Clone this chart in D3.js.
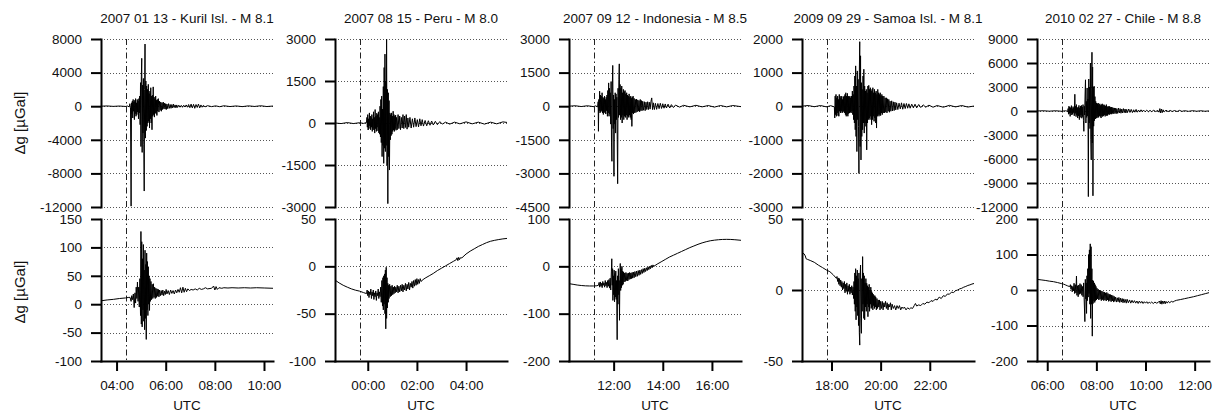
<!DOCTYPE html>
<html><head><meta charset="utf-8">
<script src="https://cdn.jsdelivr.net/npm/d3@7"></script>
<style>
body{margin:0;background:#fff}
svg{display:block}
text{font-family:"Liberation Sans",Arial,Helvetica,sans-serif;fill:#111}
</style>
</head><body>
<svg id="chart" width="1214" height="412"></svg>
<script>
// ---------- data ----------
const titles = [
  "2007 01 13 - Kuril Isl. - M 8.1",
  "2007 08 15 - Peru - M 8.0",
  "2007 09 12 - Indonesia - M 8.5",
  "2009 09 29 - Samoa Isl. - M 8.1",
  "2010 02 27 - Chile - M 8.8"
];
const eventTimes = [
  "2007-01-13T04:22:00Z",
  "2007-08-15T23:40:00Z",
  "2007-09-12T11:11:00Z",
  "2009-09-29T17:48:00Z",
  "2010-02-27T06:35:00Z"
];
const topTicks = [
  [8000, 4000, 0, -4000, -8000, -12000],
  [3000, 1500, 0, -1500, -3000],
  [3000, 1500, 0, -1500, -3000, -4500],
  [2000, 1000, 0, -1000, -2000, -3000],
  [9000, 6000, 3000, 0, -3000, -6000, -9000, -12000]
];
const bottomTicks = [
  [150, 100, 50, 0, -50, -100],
  [50, 0, -50, -100],
  [100, 0, -100, -200],
  [50, 0, -50],
  [200, 100, 0, -100, -200]
];
const yLabel = "\u0394g [\u00B5Gal]";
const xLabel = "UTC";

// [minutes after event, µGal]
const kurilTop = [[-60,0],[-45,30],[-30,-20],[-15,20],[0,-30],[5,20],[9,-80],[10.5,300],[12,-200],[13.5,-11900],[14.5,400],[15.5,-900],[16.5,600],[17.5,-1400],[18.5,800],[19.5,-600],[20.5,500],[21.5,-1600],[22.5,700],[23.5,-900],[24.5,900],[25.5,-1200],[26.5,400],[27.5,-1000],[28.5,800],[29.5,-700],[30.5,600],[31.5,-1500],[32.5,900],[33.5,-800],[34.5,1200],[35.5,-2200],[36.5,2800],[37.5,-4800],[38.5,3500],[39.5,5700],[40.5,-5500],[41.5,2500],[42.5,-3200],[43.5,3300],[44.5,-4600],[45.5,-10100],[46.5,2000],[47.5,7400],[48.5,-3800],[49.5,3000],[50.5,-2900],[51.5,2400],[52.5,-2400],[53.5,2000],[54.5,-2000],[55.5,2600],[56.5,-1800],[57.5,1500],[58.5,-2600],[59.5,1800],[60.5,-1500],[61.5,2200],[62.5,-2000],[63.5,1200],[64.5,-2800],[65.5,1300],[66.5,-1200],[67.5,2300],[68.5,-1000],[69.5,1100],[70.5,-1300],[71.5,900],[72.5,-800],[73.5,1200],[74.5,-900],[75.5,700],[76.5,-1100],[77.5,800],[78.5,-600],[80,900],[81.5,-700],[83,600],[84.5,-500],[86,500],[87.5,-600],[89,400],[90.5,-400],[92,500],[93.5,-300],[95,350],[96.5,-350],[98,300],[99.5,-400],[101,250],[103,-300],[105,300],[107,-250],[109,200],[111,-250],[113,200],[115,-200],[117,250],[119,-150],[121,150],[123,-200],[125,150],[127,-150],[130,120],[133,-120],[136,100],[139,-130],[142,110],[145,-100],[148,150],[151,-120],[154,200],[157,-180],[160,250],[163,-200],[166,220],[169,-250],[172,200],[175,-150],[178,250],[181,-200],[184,150],[187,-120],[190,100],[194,-80],[200,60],[210,-50],[220,40],[230,-60],[240,50],[255,-40],[270,30],[285,-50],[300,40],[315,-30],[330,50],[345,-40],[360,20]];
const kurilBottom = [[-60,6],[-45,7.5],[-30,8.5],[-15,10],[0,11],[8,12],[11,12],[13.5,5],[15,15],[17,8],[19,18],[21,-6],[23,20],[24.5,2],[26,30],[27.5,10],[29,39],[30.5,5],[32,30],[33.5,-5],[35,45],[36.5,-20],[37.5,128],[38.5,-35],[39.5,110],[40.5,-40],[41.5,80],[42.5,-10],[43.5,105],[44.5,-30],[45.5,60],[46.5,-45],[47.5,95],[48.5,-25],[49.5,70],[50.5,-62],[51.5,90],[52.5,-10],[53.5,75],[54.5,-20],[55.5,66],[56.5,0],[57.5,50],[58.5,-11],[59.5,45],[60.5,5],[62,40],[63.5,8],[65,35],[66.5,10],[68,36],[69.5,12],[71,30],[72.5,10],[74,28],[75.5,12],[77,27],[78.5,14],[80,26],[81.5,13],[83,25],[85,15],[87,24],[89,16],[91,25],[93,15],[95,23],[97,17],[99,26],[101,18],[104,24],[107,17],[110,25],[113,19],[116,24],[119,18],[122,25],[125,20],[128,26],[131,21],[134,29],[137,20],[140,30],[143,21],[146,28],[149,22],[152,27],[156,24],[160,26],[165,25],[170,27],[175,25],[180,28],[185,26],[190,27],[195,29],[200,27],[210,28],[215,32],[218,25],[221,31],[224,26],[228,29],[235,28],[240,29],[250,28.5],[260,29],[275,28.5],[290,29],[305,28.5],[320,29],[340,28.5],[360,28]];

const peruTop = [[-60,0],[-45,-20],[-30,15],[-15,-20],[0,10],[10,-15],[17,20],[18,200],[19,-150],[20,300],[21,-250],[22,150],[23,-200],[24,360],[25,-100],[26,250],[27,-240],[28,200],[29,-150],[30,300],[31,-300],[32,150],[33,-200],[34,400],[35,-250],[36,200],[37,-360],[38,480],[39,-200],[40,250],[41,-300],[42,350],[43,-150],[44,300],[45,-280],[46,400],[47,-350],[48,200],[49,-400],[50,600],[51,-500],[52,840],[53,-700],[54,960],[55,-1200],[56,500],[57,-800],[58,1300],[59,-1440],[60,1980],[61,-900],[62,2460],[63,-1020],[64,1500],[65,-800],[66,3000],[67,-1500],[68,1200],[69,-2880],[70,1080],[71,-1200],[72,800],[73,-1680],[74,360],[75,-600],[76,300],[77,-450],[78,360],[79,-400],[80,250],[81,-300],[82,420],[83,-250],[84,300],[85,-300],[86,240],[87,-200],[88,280],[89,-260],[90,200],[92,-240],[94,300],[96,-200],[98,250],[100,-240],[102,200],[104,-180],[106,300],[108,-200],[110,250],[112,-160],[114,300],[116,-220],[118,180],[120,-150],[123,200],[126,-180],[129,150],[132,-150],[135,180],[138,-130],[141,120],[144,-140],[147,150],[150,-100],[153,120],[156,-110],[160,90],[164,-100],[168,80],[172,-80],[176,70],[180,-70],[185,60],[190,-60],[196,50],[202,-40],[210,30],[220,-40],[232,30],[245,-30],[260,40],[275,-30],[290,30],[305,-40],[320,30],[335,-30],[350,40],[360,20]];
const peruBottom = [[-60,-14.5],[-50,-17.5],[-40,-20],[-30,-22],[-20,-23.8],[-10,-25.2],[0,-26.2],[10,-27.8],[17,-28.8],[18.5,-25],[20,-31],[21.5,-26],[23,-33],[24.5,-27],[26,-30],[27.5,-24],[29,-34],[30.5,-27],[32,-31],[33.5,-25],[35,-35],[36.5,-28],[38,-32],[39.5,-26],[41,-36],[42.5,-28],[44,-31],[45.5,-24],[47,-34],[48.5,-27],[50,-32],[51.5,-22],[53,-38],[54.5,-15],[56,-42],[57,-12],[58,-46],[59,-10],[60,-40],[61,-8],[62,-50],[63,-4],[64,-66],[65,-1],[66,-55],[67,-12],[68,-44],[69,-18],[70,-38],[71,-20],[72,-34],[73.5,-19],[75,-32],[76.5,-21],[78,-31],[79.5,-20],[81,-30],[82.5,-22],[84,-29],[85.5,-21],[87,-28],[88.5,-22],[90,-27],[92,-20],[94,-28],[96,-21],[98,-27],[100,-20],[102,-26],[104,-19],[106,-27],[108,-20],[110,-25],[112,-18],[114,-26],[116,-19],[118,-24],[120,-17],[122,-25],[124,-18],[126,-22],[128,-16],[130,-23],[132,-15],[134,-21],[136,-14],[138,-20],[140,-13],[142,-19],[144,-14],[146,-18],[148,-13],[150,-16],[155,-14],[160,-12.5],[170,-10],[180,-7.5],[190,-4.5],[200,-2],[210,0.5],[220,3],[230,5.5],[236,7],[238,9],[240,6],[242,9.5],[244,7],[246,9],[250,9],[260,13],[270,16],[280,18.5],[290,21],[300,23],[310,25],[320,26.5],[330,27.5],[340,28.3],[350,29],[360,29.5]];

const indonesiaTop = [[-60,0],[-45,20],[-30,-15],[-15,20],[0,-20],[5,15],[10,-30],[11.2,200],[11.9,-1120],[12.8,300],[13.8,-200],[14.8,670],[15.8,-300],[16.8,500],[17.8,-250],[18.8,450],[19.8,-200],[20.8,600],[21.8,-300],[22.8,400],[23.8,-370],[24.8,350],[25.8,-250],[26.8,450],[27.8,-300],[28.8,300],[29.8,-350],[30.8,400],[31.8,-200],[32.8,500],[33.8,-450],[34.8,700],[35.8,-300],[36.8,1040],[37.8,-450],[38.8,800],[39.8,-350],[40.8,600],[41.8,-800],[42.8,1100],[43.8,-1640],[44.8,-2460],[45.8,900],[46.8,1820],[47.8,-1000],[48.8,500],[49.8,-3130],[50.8,300],[51.8,-800],[52.8,600],[53.8,-1200],[54.8,550],[55.8,-600],[56.8,400],[57.8,-1500],[58.8,-3460],[59.8,800],[60.8,-500],[61.8,1200],[62.8,1890],[63.8,-400],[64.8,970],[65.8,-600],[66.8,800],[67.8,-500],[68.8,900],[69.8,-750],[70.8,600],[71.8,-400],[72.8,750],[73.8,-600],[74.8,650],[75.8,-450],[76.8,700],[77.8,-500],[78.8,550],[79.8,-400],[80.8,600],[81.8,-600],[82.8,500],[83.8,-450],[84.8,450],[85.8,-500],[86.8,550],[87.8,-400],[88.8,400],[89.8,-500],[90.8,450],[91.8,-600],[92.8,350],[93.5,-900],[94.5,400],[95.5,-300],[96.5,450],[97.5,-350],[99,350],[100.5,-300],[102,300],[103.5,-280],[105,320],[106.5,-250],[108,280],[109.5,-220],[111,250],[112.5,-250],[114,300],[115.5,-200],[117,250],[118.5,-200],[120,220],[122,-180],[124,200],[126,-200],[128,180],[130,-150],[132,200],[134,-150],[136,180],[138,-130],[140,200],[142,370],[144,-150],[146,150],[148.5,-150],[151,130],[154,-140],[157,120],[160,-110],[163,130],[166,-100],[169,110],[172,-90],[175,100],[178,-80],[182,90],[186,-80],[190,70],[195,-60],[200,50],[210,-40],[220,40],[235,-30],[250,40],[265,-30],[280,30],[295,-40],[310,30],[325,-30],[340,30],[360,-20]];
const indonesiaBottom = [[-60,-36.6],[-50,-38],[-40,-39.5],[-30,-40.5],[-20,-41.2],[-10,-41.5],[0,-41.5],[8,-41],[12,-40],[13.5,-34],[15,-44],[16.5,-33],[18,-42],[19.5,-36],[21,-45],[22.5,-32],[24,-40],[25.5,-35],[27,-44],[28.5,-30],[30,-41],[31.5,-34],[33,-45],[34.5,-30],[36,-42],[37.5,-28],[39,-46],[40.5,-25],[42,-50],[43.5,-10],[44.5,16],[45.5,-40],[46.5,-5],[47.2,-72],[48.2,-20],[49.2,-60],[50.2,-8],[51.2,-75],[52.2,-15],[53.2,-65],[54.2,-10],[55.2,-70],[56.2,-30],[57.6,-155],[58.6,-20],[59.6,-80],[60.6,-5],[61.6,-60],[62.6,-30],[63.3,-114],[64.3,-20],[65.2,6],[66.2,-51],[67.2,-5],[68.2,-45],[69.2,0],[70.2,-40],[71.2,-10],[72.2,-38],[73.2,-12],[74.5,-33],[76,-14],[77.5,-32],[79,-13],[80.5,-30],[82,-15],[83.5,-31],[85,-14],[86.5,-28],[88,-13],[89.5,-27],[91,-14],[92.5,-26],[94,-13],[95.5,-25],[97,-12],[99,-24],[101,-11],[103,-22],[105,-10],[107,-21],[109,-9],[111,-19],[113,-8],[115,-17],[117,-7],[119,-15],[121,-5],[123,-13],[125,-4],[127,-11],[129,-3],[131,-9],[133,-1],[135,-7],[137,0],[139,-5],[141,2],[143,-3],[145,3],[147,0],[155,4.5],[165,9.5],[175,14.5],[185,19.5],[195,23.5],[205,27.5],[215,31.5],[225,35.5],[235,39.5],[245,43],[255,46.5],[265,49.5],[275,52],[285,54],[295,55.3],[305,56.2],[315,56.8],[325,57],[335,56.8],[345,56.2],[360,55]];

const samoaTop = [[-60,0],[-45,20],[-30,-15],[-15,20],[0,-20],[10,15],[19,-20],[20,-350],[21,300],[22,-250],[23,350],[24,-300],[25,250],[26,-200],[27,300],[28,-280],[29,200],[30,-300],[31,350],[32,-150],[33,300],[34,-200],[35,250],[36,-150],[37,300],[38,-200],[39,200],[40,-180],[41,280],[42,-150],[43,300],[44,-200],[45,350],[46,-250],[47,400],[48,-300],[49,300],[50,-250],[51,380],[52,-300],[53,300],[54,-220],[55,280],[56,-200],[57,300],[58,-180],[59,250],[60,-200],[61,300],[62,-150],[63,450],[64,-250],[65,350],[66,-400],[67,600],[68,-500],[69,900],[70,-700],[71,1200],[72,-900],[73,600],[74,-1350],[75,1050],[76,-400],[77,800],[78,-600],[79,-2000],[80,1000],[81,1920],[82,-1200],[83,1500],[84,-1600],[85,700],[86,-900],[87,500],[88,-700],[89,900],[90,-500],[91,1100],[92,-800],[93,600],[94,-500],[95,450],[96,-600],[97,500],[98,-1300],[99,400],[100,-500],[101,600],[102,-400],[103,620],[104,-350],[105,500],[106,-400],[107,550],[108,-300],[109,450],[110,-550],[111,500],[112,-400],[113,550],[114,-300],[115,400],[116,-450],[117,500],[118,-350],[119,400],[120,-500],[121,450],[122,-650],[123,350],[124,-300],[125,500],[126,-250],[127,400],[128,-300],[129,350],[130,-250],[131,400],[132,-280],[133,300],[134,-200],[135,350],[136,-250],[137,300],[138.5,-200],[140,300],[141.5,-200],[143,250],[144.5,-180],[146,250],[147.5,-200],[149,220],[150.5,-150],[152,200],[153.5,-180],[155,150],[157,-150],[159,160],[161,-140],[163,130],[165,-130],[167,120],[169,-110],[171,100],[174,-100],[177,90],[180,-80],[183,100],[186,-90],[189,80],[192,-70],[195,80],[198,-60],[201,70],[204,-60],[208,60],[212,-50],[216,60],[220,-50],[225,50],[230,-40],[236,40],[242,-30],[250,30],[260,-30],[270,20],[285,-30],[300,25],[315,-20],[330,20],[345,-25],[363,10]];
const samoaBottom = [[-60,26],[-55,25.5],[-52,24],[-50,22],[-47,21.6],[-40,20.8],[-30,19.5],[-20,17.5],[-10,15.8],[0,14],[8,12.9],[16,10.8],[24,8.2],[25.5,9.5],[27,6],[28.5,8.5],[30,4],[31.5,8],[33,3],[34.5,7],[36,2],[37.5,6],[39,0],[40.5,5],[42,1],[43.5,6],[45,-2],[46.5,4],[48,-1],[49.5,5],[51,-3],[52.5,3],[54,-1],[55.5,4],[57,-3],[58.5,2],[60,-2],[61.5,3],[63,-3.5],[64.5,2],[66,-6],[67,6],[68,-10],[69,12],[70,-15],[71,15],[72,-21],[73,10],[74,-12],[75,14],[76,-18],[77,8],[78,-25],[79,12],[80,-30],[81,-38.8],[82,10],[83,17.6],[84,-20],[85,-30.5],[86,8],[87,-15],[88,23.5],[89,-10],[90,12],[91,-20],[92,10],[93,-21],[94,5],[95,-12],[96,8],[97,-15],[98,4.7],[99,-10],[100,3],[101,-18.8],[102,2],[103,-12],[104,4],[105,-15],[106,0],[107,-10],[108,2],[109,-13],[110,-1],[111,-12],[112,-2],[113,-14],[114,-3],[115,-11],[116,-4],[117,-13],[118,-4],[119,-12],[120,-5],[121.5,-14],[123,-6],[124.5,-13],[126,-7],[127.5,-12],[129,-7],[130.5,-14],[132,-8],[134,-13],[136,-8],[138,-14],[140,-9],[142,-12],[144,-8],[146,-13],[148,-9],[150,-14],[152,-10],[154,-12],[156,-9],[158,-14],[160,-10],[163,-13],[166,-11],[169,-14],[172,-11],[175,-13],[178,-11],[181,-14],[184,-12],[187,-13],[190,-12],[194,-14],[198,-12.5],[202,-13.5],[206,-12.5],[210,-13],[214,-11],[217,-9.5],[220,-11.3],[225,-10.5],[230,-11],[235,-9.5],[240,-10],[245,-8.5],[250,-9],[255,-7.5],[260,-8],[265,-6.5],[270,-7],[275,-5],[280,-6],[285,-4],[290,-4.5],[295,-2.8],[300,-3],[305,-1.5],[310,-1.8],[315,-0.5],[320,0],[325,0.8],[330,1.2],[335,2],[340,2.5],[345,3.2],[350,3.6],[355,4.2],[363,4.8]];

const chileTop = [[-60,0],[-45,30],[-30,-20],[-15,30],[0,-30],[10,30],[15,-50],[16,300],[17,-400],[18,600],[19,-300],[20,500],[21,-670],[22,400],[23,-250],[24,670],[25,-500],[26,300],[27,-400],[28,550],[29,-200],[30,400],[31,-600],[32.4,2090],[33.4,-300],[34.4,600],[35.4,-700],[36.4,800],[37.4,-500],[38.4,400],[39.4,-880],[40.4,500],[41.4,-600],[42.4,700],[43.4,-1080],[44.4,400],[45.4,-800],[46.4,600],[47.4,-500],[48.4,700],[49.4,-900],[50.4,500],[51.4,-700],[52.4,800],[53.4,-1200],[54.4,-2540],[55.4,600],[56.4,-500],[57.4,2000],[58.4,3900],[59.4,-1500],[60.4,1200],[61.4,-800],[62.4,2880],[63.4,-600],[64.4,1500],[65.4,-10700],[66.4,4000],[67.4,-1500],[68.4,3000],[69.4,-2200],[70.4,6000],[71.4,-3600],[72.4,-6100],[73.4,2500],[74.2,7340],[75,-4000],[75.8,5500],[76.6,-10600],[77.4,3000],[78.4,-1900],[79.4,3100],[80.4,-1200],[81.4,1800],[82.4,-1000],[83.4,1200],[84.4,-900],[85.4,1000],[86.4,-880],[87.4,900],[88.4,-700],[89.4,1000],[90.4,-800],[91.4,800],[92.4,-600],[93.4,900],[94.4,-700],[95.4,700],[96.4,-880],[97.4,800],[98.4,-600],[99.4,900],[100.4,-700],[101.4,700],[102.4,-600],[103.4,800],[104.4,-500],[105.4,700],[106.4,-670],[107.4,600],[108.4,-500],[109.4,800],[110.4,-600],[111.4,500],[112.4,-550],[113.4,600],[114.4,-400],[115.4,550],[116.4,-460],[117.4,580],[118.4,-400],[119.4,450],[120.4,-350],[121.4,500],[122.4,-400],[123.5,450],[124.5,-300],[126,400],[127.5,-350],[129,380],[130.5,-300],[132,350],[133.5,-330],[135,300],[137,-300],[139,375],[141,-250],[143,300],[145,-280],[147,250],[149,-250],[151,300],[153,-200],[155,250],[157,-250],[159,200],[161,-200],[164,250],[167,-180],[170,200],[173,-200],[176,150],[179,-150],[182,200],[185,-150],[188,120],[191,-130],[194,150],[197,-100],[200,120],[204,-100],[208,100],[212,-90],[216,80],[220,-80],[225,90],[230,-70],[235,80],[238,-150],[240,300],[242,-250],[244,250],[246,-200],[248,150],[251,-100],[255,100],[260,-80],[265,70],[270,-60],[276,60],[282,-70],[288,80],[294,-50],[300,40],[310,-40],[320,40],[330,-30],[340,30],[350,-30],[360,10]];
const chileBottom = [[-60,30],[-50,28.5],[-40,27],[-30,25],[-20,23.5],[-10,21],[0,18],[5,16.5],[10,14],[15,11.5],[20,9.4],[21.5,15],[23,2],[24.5,12],[26,-5],[27.5,10],[29,-2],[30.5,19],[32,-10],[33.5,15],[35,-8],[36.4,39.4],[37.5,-15],[39,12],[40.5,-19],[42,14],[43.5,-12],[45,18],[46.5,-10],[48,15],[49.5,-15],[51,10],[52.5,-19],[54,20],[55,-20],[56.9,-89],[58,30],[59,-25],[60,20],[61,-66],[62,40],[63,-30],[64,60],[65,-20],[66,100],[67,-10],[68,113],[69,-40],[70,130],[71,-80],[72,122],[73,-40],[74,60],[75,-130],[76,28],[77,-38],[78,25],[79,-30],[80,20],[81,-35],[82,15],[83,-30],[84,10],[85,-28],[86.5,5],[88,-25],[89.5,2],[91,-28],[92.5,0],[94,-26],[95.5,-2],[97,-30],[98.5,-3],[100,-27],[101.5,-5],[103,-30],[104.5,-6],[106,-28],[107.5,-8],[109,-31],[110.5,-7],[112,-28],[113.5,-10],[115,-32],[116.5,-12],[118,-30],[119.5,-13],[121,-33],[122.5,-14],[124,-31],[125.5,-16],[127,-34],[128.5,-18],[130,-32],[132,-20],[134,-34],[136,-22],[138,-33],[140,-21],[142,-35],[144,-23],[146,-34],[148,-24],[150,-36],[152,-25],[154,-35],[156,-27],[158,-37],[160,-26],[163,-36],[166,-28],[169,-37],[172,-29],[175,-36],[178,-30],[181,-37],[184,-31],[187,-38],[190,-31],[193,-37],[196,-32],[199,-38],[202,-33],[205,-37],[208,-33],[211,-38],[214,-34],[217,-37],[220,-34],[224,-38],[228,-34],[232,-37],[236,-35],[239,-31],[241,-39],[243,-30],[245,-40],[247,-31],[249,-38],[251,-31],[253,-39],[255,-32],[258,-37],[261,-32],[264,-36],[268,-32],[272,-34],[276,-31],[281,-29],[290,-27],[300,-24.5],[310,-22],[322,-19],[332,-16],[342,-13],[352,-10],[360,-7.5]];

const topSeries = [kurilTop, peruTop, indonesiaTop, samoaTop, chileTop];
const bottomSeries = [kurilBottom, peruBottom, indonesiaBottom, samoaBottom, chileBottom];
const windowBefore = 60, windowAfter = 360; // minutes around event

// ---------- layout ----------
const svg = d3.select("#chart");
const panelW = 172;
const lefts = [101, 335, 569, 802, 1037];
const topRange = [207, 39];
const botRange = [361, 219];
const tickLen = 10;
const fs = "13.5px";

function grid(g, y, ticks, left, skipMin) {
  const gv = ticks.filter(t => !(skipMin && t === d3.min(ticks)));
  g.append("g").selectAll("line").data(gv).join("line")
    .attr("x1", left).attr("x2", left + panelW)
    .attr("y1", d => Math.round(y(d)) + 0.5).attr("y2", d => Math.round(y(d)) + 0.5)
    .attr("stroke", "#555").attr("stroke-width", 1)
    .attr("stroke-dasharray", "1,2");
}

titles.forEach((title, i) => {
  const L = lefts[i];
  const ev = new Date(eventTimes[i]);
  const x = d3.scaleUtc()
    .domain([new Date(+ev - windowBefore * 60000), new Date(+ev + windowAfter * 60000)])
    .range([L, L + panelW]);
  const yT = d3.scaleLinear().domain(d3.extent(topTicks[i])).range(topRange);
  const yB = d3.scaleLinear().domain(d3.extent(bottomTicks[i])).range(botRange);
  const g = svg.append("g");

  const cT = "clipT" + i, cB = "clipB" + i;
  const defs = svg.append("defs");
  defs.append("clipPath").attr("id", cT).append("rect")
    .attr("x", L).attr("y", topRange[1] - 1).attr("width", panelW).attr("height", topRange[0] - topRange[1] + 2);
  defs.append("clipPath").attr("id", cB).append("rect")
    .attr("x", L).attr("y", botRange[1] - 1).attr("width", panelW).attr("height", botRange[0] - botRange[1] + 1);

  grid(g, yT, topTicks[i], L, false);
  grid(g, yB, bottomTicks[i], L, true);

  // event line
  g.append("line")
    .attr("x1", Math.round(x(ev)) + 0.5).attr("x2", Math.round(x(ev)) + 0.5)
    .attr("y1", topRange[1]).attr("y2", botRange[0])
    .attr("stroke", "#222").attr("stroke-width", 1)
    .attr("stroke-dasharray", "6,3,1.5,3");

  const tx = d => x(new Date(+ev + d[0] * 60000));
  g.append("path").datum(topSeries[i])
    .attr("clip-path", `url(#${cT})`)
    .attr("fill", "none").attr("stroke", "#000").attr("stroke-width", 1)
    .attr("stroke-linejoin", "round")
    .attr("d", d3.line().x(tx).y(d => yT(d[1])));
  g.append("path").datum(bottomSeries[i])
    .attr("clip-path", `url(#${cB})`)
    .attr("fill", "none").attr("stroke", "#000").attr("stroke-width", 1)
    .attr("stroke-linejoin", "round")
    .attr("d", d3.line().x(tx).y(d => yB(d[1])));

  const styleAxis = a => {
    a.selectAll("path.domain").attr("stroke", "#000").attr("stroke-width", 2).attr("stroke-linecap", "square");
    a.selectAll(".tick line").attr("stroke", "#000").attr("stroke-width", 2);
    a.selectAll(".tick text").attr("font-size", fs).attr("fill", "#111")
      .attr("font-family", '"Liberation Sans", Arial, sans-serif');
  };
  const axT = g.append("g").attr("transform", `translate(${L},0)`)
    .call(d3.axisLeft(yT).tickValues(topTicks[i]).tickSize(tickLen).tickSizeOuter(0)
      .tickPadding(9).tickFormat(d => String(d)));
  styleAxis(axT);
  const axB = g.append("g").attr("transform", `translate(${L},0)`)
    .call(d3.axisLeft(yB).tickValues(bottomTicks[i]).tickSize(tickLen).tickSizeOuter(0)
      .tickPadding(9).tickFormat(d => String(d)));
  styleAxis(axB);
  const axX = g.append("g").attr("transform", `translate(0,${botRange[0]})`)
    .call(d3.axisBottom(x).ticks(d3.utcHour.every(2)).tickSize(tickLen).tickSizeOuter(0)
      .tickPadding(9).tickFormat(d3.utcFormat("%H:%M")));
  styleAxis(axX);

  g.append("text").attr("x", L + panelW / 2).attr("y", 23)
    .attr("text-anchor", "middle").attr("font-size", fs).text(title);
  g.append("text").attr("x", L + panelW / 2).attr("y", 410)
    .attr("text-anchor", "middle").attr("font-size", fs).text(xLabel);
});

[123, 292].forEach(cy => {
  svg.append("text")
    .attr("transform", `translate(25,${cy}) rotate(-90)`)
    .attr("text-anchor", "middle").attr("font-size", "15px").text(yLabel);
});
</script>
</body></html>
